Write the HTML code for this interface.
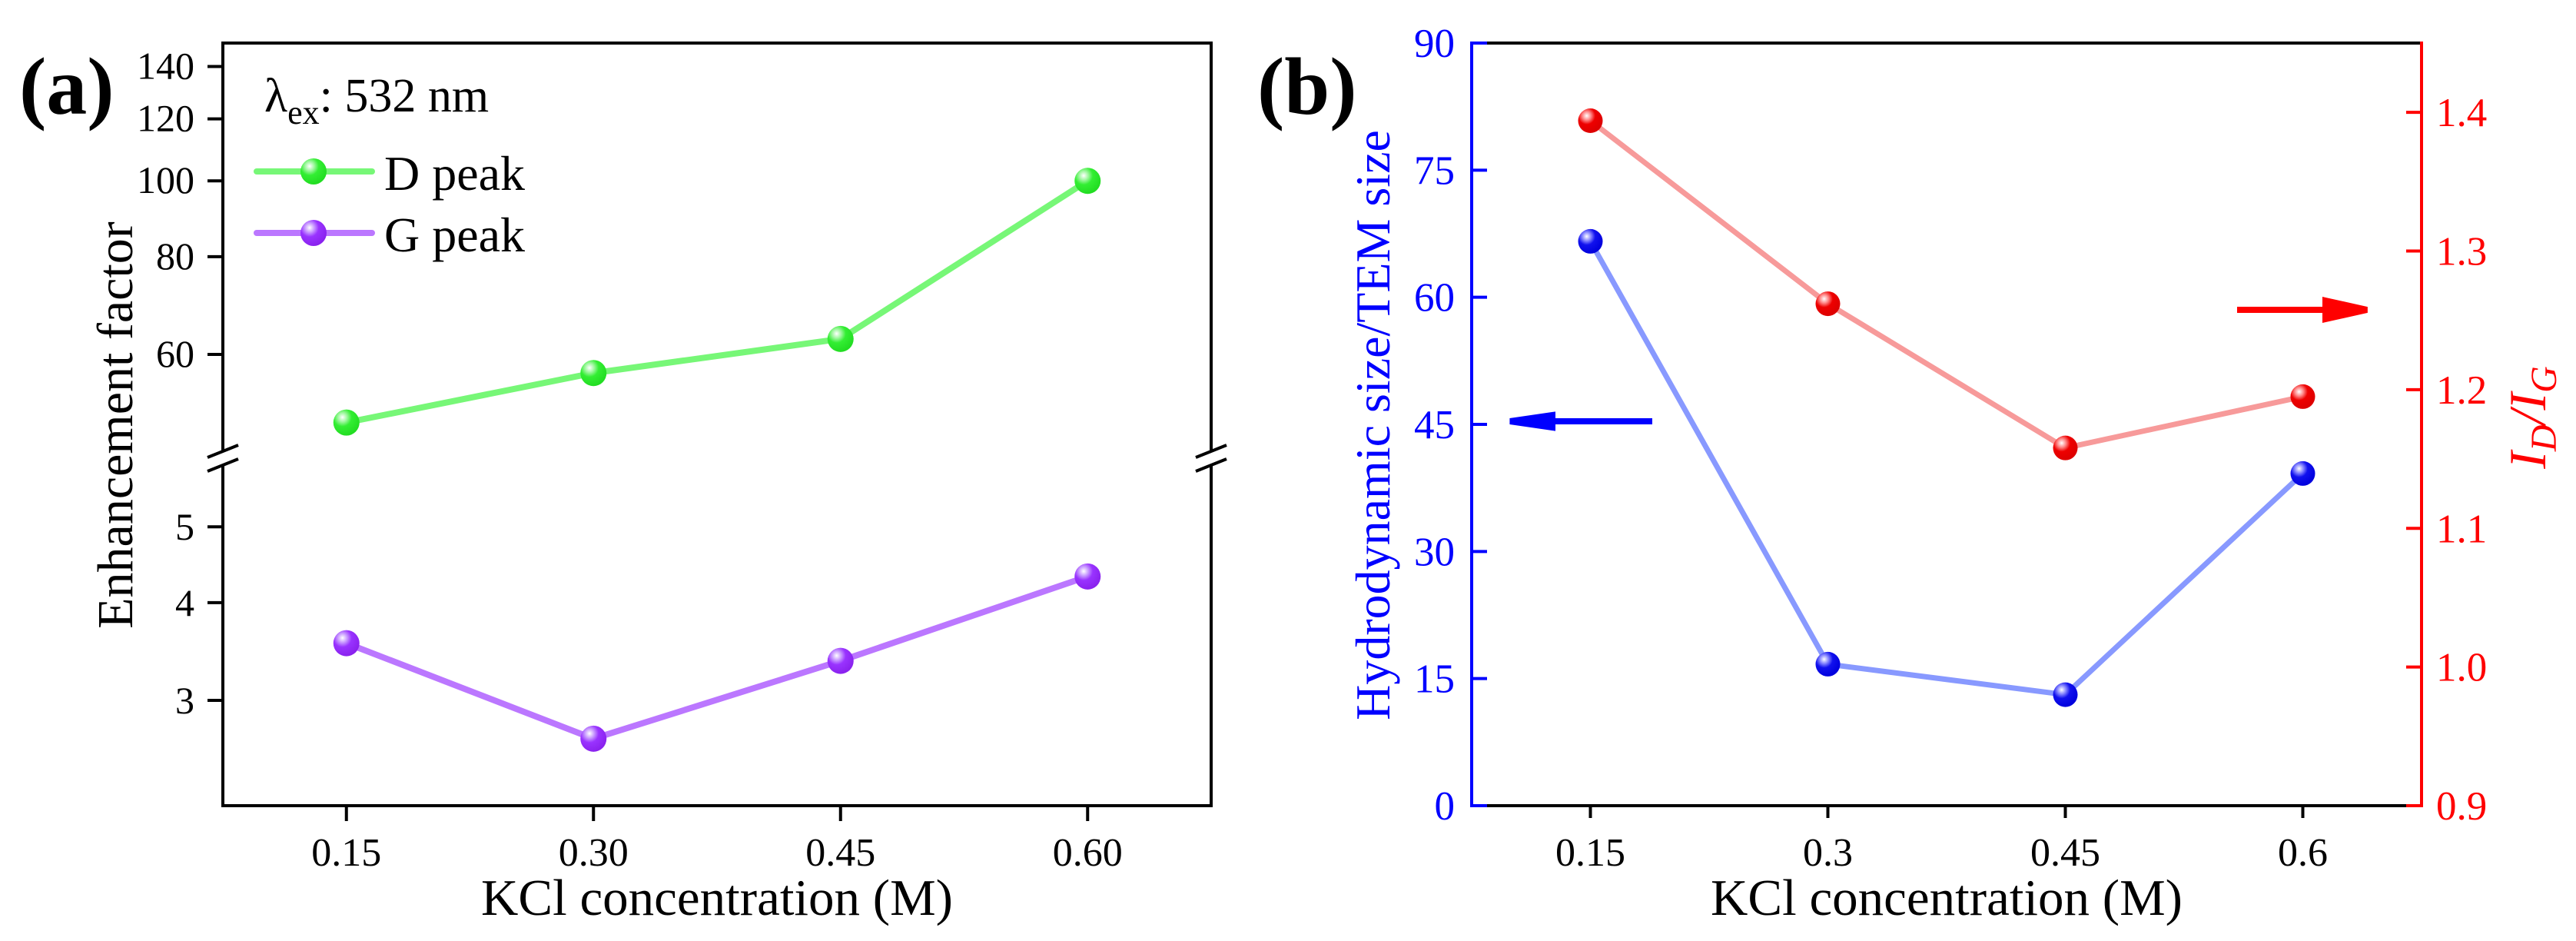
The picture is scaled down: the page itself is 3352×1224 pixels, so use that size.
<!DOCTYPE html>
<html><head><meta charset="utf-8"><style>
html,body{margin:0;padding:0;background:#fff;}
svg{display:block;font-family:"Liberation Serif",serif;}
text{font-family:"Liberation Serif",serif;}
</style></head><body>
<svg id="fig" width="3352" height="1224" viewBox="0 0 3352 1224" xmlns="http://www.w3.org/2000/svg">
<defs>
<radialGradient id="gG" cx="0.35" cy="0.3" r="0.7"><stop offset="0" stop-color="#ffffff"/><stop offset="0.25" stop-color="#9ff79f"/><stop offset="0.5" stop-color="#33ee33"/><stop offset="1" stop-color="#22dd22"/></radialGradient>
<radialGradient id="gP" cx="0.35" cy="0.3" r="0.7"><stop offset="0" stop-color="#ffffff"/><stop offset="0.25" stop-color="#c99cff"/><stop offset="0.5" stop-color="#9933ff"/><stop offset="1" stop-color="#8a22ee"/></radialGradient>
<radialGradient id="gB" cx="0.35" cy="0.3" r="0.7"><stop offset="0" stop-color="#ffffff"/><stop offset="0.25" stop-color="#8888ff"/><stop offset="0.5" stop-color="#1111ee"/><stop offset="1" stop-color="#0000dd"/></radialGradient>
<radialGradient id="gR" cx="0.35" cy="0.3" r="0.7"><stop offset="0" stop-color="#ffffff"/><stop offset="0.25" stop-color="#ff8888"/><stop offset="0.5" stop-color="#ee0000"/><stop offset="1" stop-color="#dd0000"/></radialGradient>
</defs>
<g id="pa"></g>
<g id="pb"></g>
</svg>
<script>
const categories = [0.15, 0.30, 0.45, 0.60];
const xTickLabelsA = ["0.15", "0.30", "0.45", "0.60"];
const xTickLabelsB = ["0.15", "0.3", "0.45", "0.6"];
const dPeak = [49.1, 56.8, 62.8, 100];
const gPeak = [3.55, 2.68, 3.37, 4.32];
const upperTicks = [60, 80, 100, 120, 140];
const lowerTicks = [3, 4, 5];
const hydroRatio = [66.6, 16.7, 13.1, 39.2];
const idig = [1.394, 1.262, 1.158, 1.195];
const leftTicksB = [0, 15, 30, 45, 60, 75, 90];
const rightTicksB = [0.9, 1.0, 1.1, 1.2, 1.3, 1.4];

const NS = "http://www.w3.org/2000/svg";
function mk(parent, tag, attrs, text) {
  const e = document.createElementNS(NS, tag);
  for (const k in attrs) e.setAttribute(k, attrs[k]);
  if (tag === 'text') e.setAttribute('font-family', '"Liberation Serif", serif');
  if (text !== undefined) e.textContent = text;
  parent.appendChild(e);
  return e;
}
const pa = document.getElementById('pa');
const pb = document.getElementById('pb');

/* ---------- Panel A ---------- */
const aL = 290, aR = 1576, aT = 56, aB = 1048, brk = 596;
const xA = v => aL + (v - 0.075) / 0.6 * (aR - aL);
const K = 442;
const yUp = v => 461 - K * Math.log(v / 60);
const yLo = v => 911 - K * Math.log(v / 3);

let e;
e = mk(pa, 'line', {x1: aL, y1: aT, x2: aR, y2: aT, stroke: '#000', 'stroke-width': 4});
 
e = mk(pa, 'line', {x1: aL, y1: aB, x2: aR, y2: aB, stroke: '#000', 'stroke-width': 4});
 
[aL, aR].forEach((x, i) => {
  e = mk(pa, 'line', {x1: x, y1: aT - 2, x2: x, y2: brk - 10, stroke: '#000', 'stroke-width': 4});
   
  e = mk(pa, 'line', {x1: x, y1: brk + 9, x2: x, y2: aB + 2, stroke: '#000', 'stroke-width': 4});
   
  e = mk(pa, 'path', {d: `M${x-20} ${brk-1} L${x+20} ${brk-17} M${x-20} ${brk+17} L${x+20} ${brk+1}`, stroke: '#000', 'stroke-width': 4, fill: 'none'});
   
});
upperTicks.forEach(t => {
  const y = yUp(t);
  e = mk(pa, 'line', {x1: aL - 20, y1: y, x2: aL, y2: y, stroke: '#000', 'stroke-width': 4});
   
  e = mk(pa, 'text', {x: 253, y: y + 16, 'font-size': 50, 'text-anchor': 'end', fill: '#000'}, String(t));
   
});
lowerTicks.forEach(t => {
  const y = yLo(t);
  e = mk(pa, 'line', {x1: aL - 20, y1: y, x2: aL, y2: y, stroke: '#000', 'stroke-width': 4});
   
  e = mk(pa, 'text', {x: 253, y: y + 17, 'font-size': 50, 'text-anchor': 'end', fill: '#000'}, String(t));
   
});
categories.forEach((c, i) => {
  const x = xA(c);
  e = mk(pa, 'line', {x1: x, y1: aB, x2: x, y2: aB + 20, stroke: '#000', 'stroke-width': 4});
   
  e = mk(pa, 'text', {x: x, y: aB + 78, 'font-size': 52, 'text-anchor': 'middle', fill: '#000'}, xTickLabelsA[i]);
   
});
function series(g, xs, ys, lineColor, grad, lw, r, name) {
  const pts = xs.map((x, i) => x + ',' + ys[i]).join(' ');
  e = mk(g, 'polyline', {points: pts, fill: 'none', stroke: lineColor, 'stroke-width': lw, 'stroke-linejoin': 'round', 'stroke-linecap': 'round'});
   
  xs.forEach((x, i) => {
    e = mk(g, 'ellipse', {cx: x, cy: ys[i], rx: r, ry: r, fill: 'url(#' + grad + ')'});
     
  });
}
series(pa, categories.map(xA), dPeak.map(yUp), '#77f777', 'gG', 8, 17, 'd-peak');
series(pa, categories.map(xA), gPeak.map(yLo), '#bb77ff', 'gP', 8, 17, 'g-peak');
e = mk(pa, 'text', {x: 344, y: 145, 'font-size': 62, fill: '#000'});
 
e.innerHTML = 'λ<tspan font-size="44" dy="16">ex</tspan><tspan dy="-16">: 532 nm</tspan>';
[[223, '#77f777', 'gG', 'D peak'], [303, '#bb77ff', 'gP', 'G peak']].forEach(([y, c, g, t]) => {
  e = mk(pa, 'line', {x1: 334, y1: y, x2: 484, y2: y, stroke: c, 'stroke-width': 8, 'stroke-linecap': 'round'});
   
  e = mk(pa, 'ellipse', {cx: 408, cy: y, rx: 17, ry: 17, fill: 'url(#' + g + ')'});
   
  e = mk(pa, 'text', {x: 500, y: y + 24, 'font-size': 64, fill: '#000'}, t);
   
});
e = mk(pa, 'text', {x: 25, y: 148, 'font-size': 106, 'font-weight': 'bold', fill: '#000'}, '(a)');
 
e = mk(pa, 'text', {x: 0, y: 0, 'font-size': 66, 'text-anchor': 'middle', fill: '#000', transform: 'translate(172,553) rotate(-90)'}, 'Enhancement factor');
 
e = mk(pa, 'text', {x: 933, y: 1190, 'font-size': 67, 'text-anchor': 'middle', fill: '#000'}, 'KCl concentration (M)');
 

/* ---------- Panel B ---------- */
const bL = 1915, bR = 3151, bT = 56, bB = 1048;
const xB = v => bL + (v - 0.075) / 0.6 * (bR - bL);
const yBL = v => bB - v / 90 * (bB - bT);
const yBR = v => bB - (v - 0.9) / 0.55 * (bB - bT);

e = mk(pb, 'line', {x1: bL, y1: bT, x2: bR, y2: bT, stroke: '#000', 'stroke-width': 4});
 
e = mk(pb, 'line', {x1: bL, y1: bB, x2: bR, y2: bB, stroke: '#000', 'stroke-width': 4});
 
e = mk(pb, 'line', {x1: bL, y1: bT - 2, x2: bL, y2: bB + 2, stroke: '#0000ff', 'stroke-width': 4});
 
e = mk(pb, 'line', {x1: bR, y1: bT - 2, x2: bR, y2: bB + 2, stroke: '#ff0000', 'stroke-width': 4});
 
leftTicksB.forEach(t => {
  const y = yBL(t);
  e = mk(pb, 'line', {x1: bL, y1: y, x2: bL + 20, y2: y, stroke: '#0000ff', 'stroke-width': 4});
   
  e = mk(pb, 'text', {x: 1893, y: y + 18, 'font-size': 53, 'text-anchor': 'end', fill: '#0000ff'}, String(t));
   
});
rightTicksB.forEach(t => {
  const y = yBR(t);
  e = mk(pb, 'line', {x1: bR - 20, y1: y, x2: bR, y2: y, stroke: '#ff0000', 'stroke-width': 4});
   
  e = mk(pb, 'text', {x: 3170, y: y + 18, 'font-size': 53, 'text-anchor': 'start', fill: '#ff0000'}, t.toFixed(1));
   
});
categories.forEach((c, i) => {
  const x = xB(c);
  e = mk(pb, 'line', {x1: x, y1: bB, x2: x, y2: bB + 16, stroke: '#000', 'stroke-width': 4});
   
  e = mk(pb, 'text', {x: x, y: bB + 78, 'font-size': 52, 'text-anchor': 'middle', fill: '#000'}, xTickLabelsB[i]);
   
});
series(pb, categories.map(xB), idig.map(yBR), '#f79a9a', 'gR', 7, 16, 'id-ig');
series(pb, categories.map(xB), hydroRatio.map(yBL), '#8899ff', 'gB', 7, 16, 'hydro-ratio');
e = mk(pb, 'path', {d: 'M2150 548 L2020 548 M2020 540 L1965 548 L2020 556 Z', stroke: '#0000ff', 'stroke-width': 8, fill: '#0000ff'});
 
e = mk(pb, 'path', {d: 'M2911 403 L3026 403 M3026 391 L3080 403 L3026 415 Z', stroke: '#ff0000', 'stroke-width': 8, fill: '#ff0000'});
 
e = mk(pb, 'text', {x: 1636, y: 148, 'font-size': 106, 'font-weight': 'bold', fill: '#000'}, '(b)');
 
e = mk(pb, 'text', {x: 0, y: 0, 'font-size': 64, 'text-anchor': 'middle', fill: '#0000ff', transform: 'translate(1808,553) rotate(-90)'}, 'Hydrodynamic size/TEM size');
 
e = mk(pb, 'text', {x: 0, y: 0, 'font-size': 68, 'text-anchor': 'middle', 'font-style': 'italic', fill: '#ff0000', transform: 'translate(3312,543) rotate(-90)'});
 
e.innerHTML = 'I<tspan font-size="48" dy="14">D</tspan><tspan dy="-14">/I</tspan><tspan font-size="48" dy="14">G</tspan>';
e = mk(pb, 'text', {x: 2533, y: 1190, 'font-size': 67, 'text-anchor': 'middle', fill: '#000'}, 'KCl concentration (M)');
 
</script>
</body></html>
